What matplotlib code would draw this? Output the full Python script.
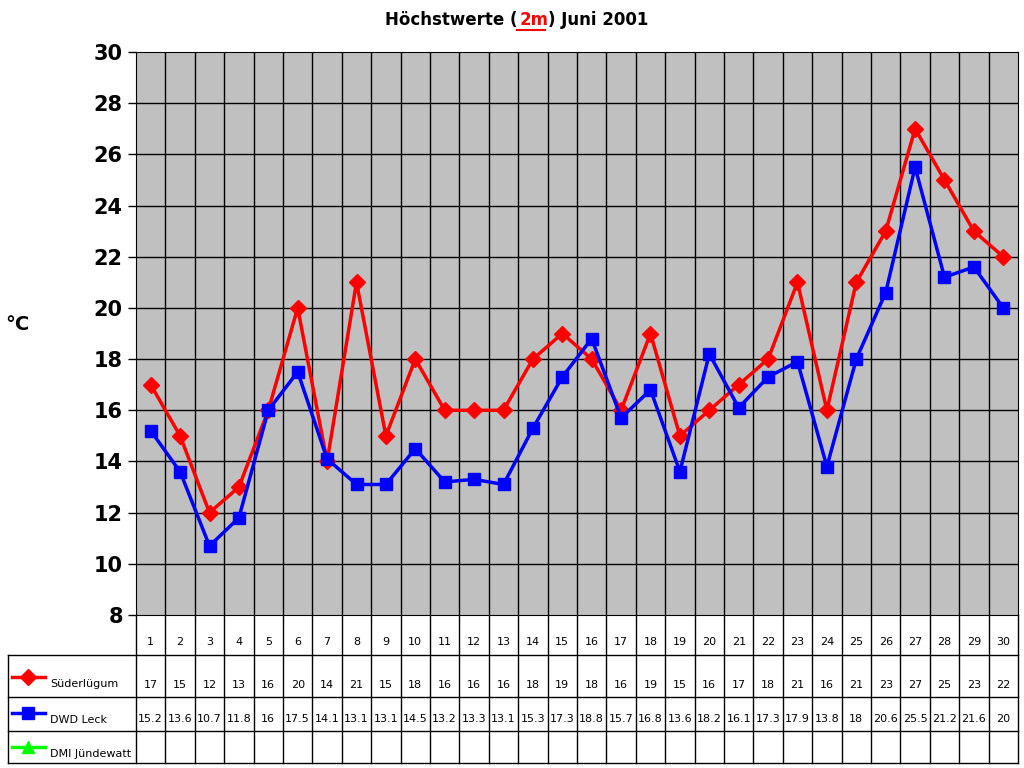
import matplotlib.pyplot as plt
import numpy as np

days = list(range(1, 31))
suederluegum = [17, 15, 12, 13, 16, 20, 14, 21, 15, 18, 16, 16, 16, 18, 19, 18, 16, 19, 15, 16,
                17, 18, 21, 16, 21, 23, 27, 25, 23, 22]
dwd_leck = [15.2, 13.6, 10.7, 11.8, 16, 17.5, 14.1, 13.1, 13.1, 14.5, 13.2, 13.3, 13.1, 15.3, 17.3,
            18.8, 15.7, 16.8, 13.6, 18.2, 16.1, 17.3, 17.9, 13.8, 18, 20.6, 25.5, 21.2, 21.6, 20]
series = [("Süderlügum", suederluegum, "#ff0000", "D"),
          ("DWD Leck", dwd_leck, "#0000ff", "s"),
          ("DMI Jündewatt", [], "#00ff00", "^")]

W, H = 1024, 768
fig = plt.figure(figsize=(W / 100, H / 100), dpi=100)
x0, x1, y0, y1 = 136, 1018, 52, 615
ax = fig.add_axes([x0 / W, 1 - y1 / H, (x1 - x0) / W, (y1 - y0) / H])
ax.set_facecolor("#c0c0c0")
ax.set_xlim(0.5, 30.5)
ax.set_ylim(8, 30)
ax.set_yticks(range(8, 31, 2))
ax.set_xticks([])
for v in range(10, 30, 2):
    ax.axhline(v, color="black", lw=1)
for d in range(1, 30):
    ax.axvline(d + 0.5, color="black", lw=1)
for sp in ax.spines.values():
    sp.set_color("black")
ax.tick_params(axis="y", labelsize=15, length=6, width=1)
for lab in ax.get_yticklabels():
    lab.set_fontweight("bold")
ax.set_ylabel("°C", rotation=0, fontsize=14, fontweight="bold", labelpad=25)
ax.yaxis.set_label_coords(-0.135, 0.5)

for name, vals, col, mk in series:
    if vals:
        ax.plot(days, vals, color=col, lw=2.5, marker=mk, markersize=9 if mk == "s" else 8, zorder=3)

# title pieces
t1 = fig.text(0.505, 1 - 20 / H, "Höchstwerte (", ha="right", va="center", fontsize=12, fontweight="bold")
t2 = fig.text(0.507, 1 - 20 / H, "2m", ha="left", va="center", fontsize=12, fontweight="bold", color="red")
t2.set_text("2m")
t3 = ax.annotate(") Juni 2001", xy=(1, 0), xycoords=t2, xytext=(0, 0), textcoords="offset points",
                 ha="left", va="bottom", fontsize=12, fontweight="bold", annotation_clip=False)
fig.add_artist(plt.Line2D([517 / W, 545 / W], [1 - 30 / H, 1 - 30 / H], color="red", lw=1.5))

# data table
tab = fig.add_axes([0, 0, 1, 1], facecolor="none")
tab.set_xlim(0, W)
tab.set_ylim(H, 0)
tab.axis("off")
colw = (x1 - x0) / 30
rows = [615, 655, 697, 731, 763]
tab.plot([8, x1], [rows[1], rows[1]], color="black", lw=1)
for r in rows[2:]:
    tab.plot([8, x1], [r, r], color="black", lw=1)
tab.plot([8, 8], [rows[1], rows[-1]], color="black", lw=1)
for i in range(31):
    xx = x0 + i * colw
    tab.plot([xx, xx], [rows[0], rows[-1]], color="black", lw=1)
for i, d in enumerate(days):
    cx = x0 + (i + 0.5) * colw
    tab.text(cx, 642, str(d), ha="center", va="center", fontsize=8)
    tab.text(cx, 685, f"{suederluegum[i]:g}", ha="center", va="center", fontsize=8)
    tab.text(cx, 719, f"{dwd_leck[i]:g}", ha="center", va="center", fontsize=8)
for k, (name, vals, col, mk) in enumerate(series):
    ym = [677, 713, 747][k]
    tab.plot([12, 45], [ym, ym], color=col, lw=2.5)
    tab.plot([28], [ym], color=col, marker=mk, markersize=8)
    tab.text(50, ym + 7, name, ha="left", va="center", fontsize=8)

fig.savefig("out.png", dpi=100)
